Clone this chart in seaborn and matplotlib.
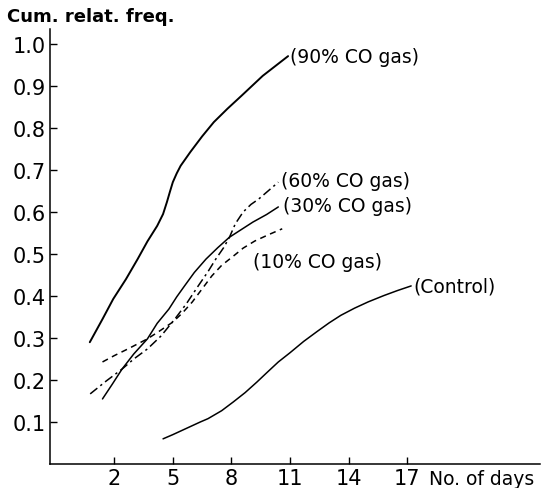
import matplotlib
matplotlib.use("Agg")
import matplotlib.pyplot as plt
import seaborn as sns
import pandas as pd

# ---- data ----
days_90 = [0.75, 1.4, 1.95, 2.6, 3.2, 3.7, 4.2, 4.5, 4.7, 4.85, 5.0, 5.2, 5.4, 5.9, 6.5, 7.1, 7.8, 8.5, 9.6, 10.9]
freq_90 = [0.29, 0.345, 0.393, 0.44, 0.488, 0.53, 0.567, 0.595, 0.624, 0.648, 0.671, 0.692, 0.71, 0.743, 0.78, 0.814, 0.846, 0.876, 0.924, 0.971]

days_60 = [0.77, 1.6, 2.4, 3.0, 3.7, 4.4, 5.1, 5.7, 6.3, 6.8, 7.2, 7.6, 7.9, 8.2, 8.6, 9.0, 9.4, 9.9, 10.4]
freq_60 = [0.167, 0.198, 0.226, 0.25, 0.274, 0.305, 0.345, 0.382, 0.424, 0.458, 0.488, 0.515, 0.54, 0.572, 0.60, 0.618, 0.631, 0.651, 0.671]

days_30 = [1.4, 1.9, 2.4, 3.0, 3.7, 4.2, 4.8, 5.2, 5.6, 6.1, 6.7, 7.3, 7.9, 8.5, 9.1, 9.8, 10.4]
freq_30 = [0.155, 0.19, 0.226, 0.262, 0.298, 0.335, 0.369, 0.398, 0.424, 0.456, 0.488, 0.515, 0.54, 0.558, 0.576, 0.594, 0.612]

days_10 = [1.4, 2.0, 2.7, 3.2, 3.7, 4.3, 5.0, 5.5, 6.0, 6.5, 7.0, 7.5, 8.1, 8.6, 9.2, 9.9, 10.6]
freq_10 = [0.243, 0.258, 0.274, 0.286, 0.298, 0.316, 0.338, 0.36, 0.386, 0.417, 0.448, 0.473, 0.495, 0.514, 0.531, 0.546, 0.56]

days_ctrl = [4.5, 5.0, 5.7, 6.4, 6.8, 7.5, 8.1, 8.7, 9.3, 9.8, 10.4, 11.0, 11.7, 12.4, 13.0, 13.6, 14.3, 15.0, 15.8, 16.5, 17.2]
freq_ctrl = [0.06, 0.07, 0.085, 0.1, 0.108, 0.127, 0.148, 0.17, 0.195, 0.217, 0.243, 0.265, 0.292, 0.316, 0.336, 0.354, 0.371, 0.386, 0.401, 0.413, 0.424]

series_labels = ["(90% CO gas)", "(60% CO gas)", "(30% CO gas)", "(10% CO gas)", "(Control)"]
label_x = [11.0, 10.55, 10.65, 9.1, 17.3]
label_y = [0.97, 0.675, 0.615, 0.482, 0.425]

x_ticks = [2, 5, 8, 11, 14, 17]
y_ticks = [0.1, 0.2, 0.3, 0.4, 0.5, 0.6, 0.7, 0.8, 0.9, 1.0]
y_tick_labels = ["0.1", "0.2", "0.3", "0.4", "0.5", "0.6", "0.7", "0.8", "0.9", "1.0"]
y_title = "Cum. relat. freq."
x_title = "No. of days"

# ---- plotting ----
sns.set_style("white")
plt.rcParams["font.family"] = ["DejaVu Sans"]
plt.rcParams["text.color"] = "black"

fig = plt.figure(figsize=(5.45, 4.89), dpi=100)
ax = fig.add_axes([0.092, 0.049, 0.899, 0.89])

frames = []
for name, d, f in [("90", days_90, freq_90), ("60", days_60, freq_60),
                   ("30", days_30, freq_30), ("10", days_10, freq_10),
                   ("ctrl", days_ctrl, freq_ctrl)]:
    frames.append(pd.DataFrame({"day": d, "freq": f, "series": name}))
df = pd.concat(frames, ignore_index=True)

styles = {"90": "-", "60": (0, (6, 2.5, 1.5, 2.5)), "30": "-", "10": (0, (4, 3)), "ctrl": "-"}
widths = {"90": 1.4, "60": 1.1, "30": 1.1, "10": 1.1, "ctrl": 1.1}
for name in ["90", "60", "30", "10", "ctrl"]:
    sub = df[df["series"] == name]
    sns.lineplot(data=sub, x="day", y="freq", ax=ax, color="black",
                 linewidth=widths[name], linestyle=styles[name], sort=False, estimator=None)

for lab, lx, ly in zip(series_labels, label_x, label_y):
    ax.text(lx, ly, lab, ha="left", va="center", fontsize=13.5, color="black")

ax.set_xlim(-1.28, 23.8)
ax.set_ylim(0, 1.036)
ax.set_xticks(x_ticks)
ax.set_xticklabels([str(t) for t in x_ticks])
ax.set_yticks(y_ticks)
ax.set_yticklabels(y_tick_labels)
ax.tick_params(direction="in", length=5, width=1, colors="black",
               labelsize=15, pad=3, left=True, bottom=True)
ax.set_xlabel("")
ax.set_ylabel("")
for s in ["top", "right"]:
    ax.spines[s].set_visible(False)
for s in ["left", "bottom"]:
    ax.spines[s].set_color("black")
    ax.spines[s].set_linewidth(1.1)

ax.text(20.8, -0.012, x_title, ha="center", va="top", fontsize=13.5, color="black")
fig.text(0.012, 0.965, y_title, ha="left", va="center", fontsize=13,
         fontweight="bold", color="black")

fig.savefig("out.png", dpi=100, facecolor="white")
